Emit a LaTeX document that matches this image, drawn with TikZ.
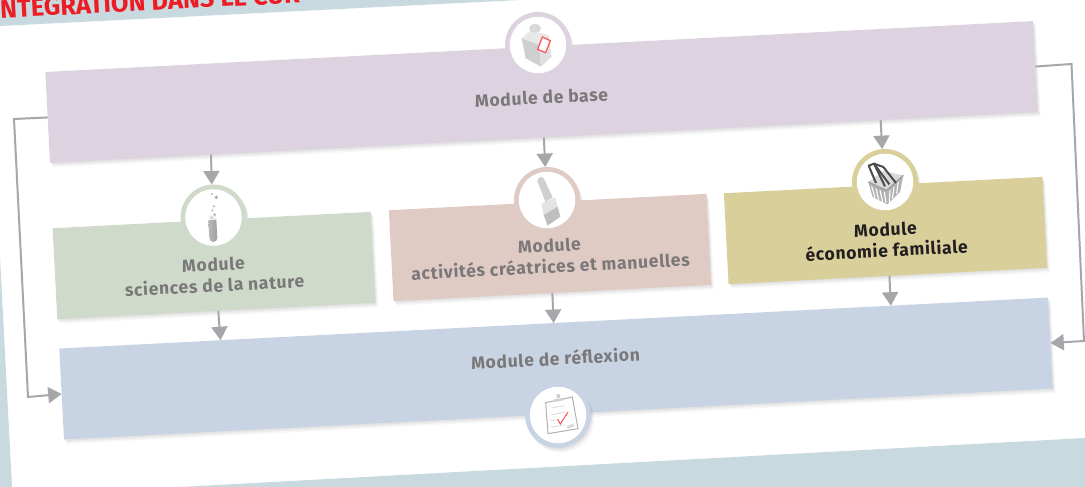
\documentclass[tikz,border=0pt]{standalone}
\usepackage{fontspec}
\setmainfont{Fira Sans}
\usetikzlibrary{arrows.meta,calc,shadows}
\definecolor{tealbg}{HTML}{C8DAE0}
\definecolor{cbase}{HTML}{DDD2DF}
\definecolor{cgreen}{HTML}{CFDACB}
\definecolor{cpink}{HTML}{E0CAC4}
\definecolor{cyellow}{HTML}{D9CF9A}
\definecolor{cblue}{HTML}{C8D4E3}
\definecolor{cgrey}{HTML}{A7A7AB}
\definecolor{ctext}{HTML}{7A7879}
\definecolor{cdark}{HTML}{231F20}
\definecolor{cred}{HTML}{ED1C24}
\tikzset{
  softshadow/.style={
    drop shadow={shadow xshift=1pt,shadow yshift=-1.5pt,fill=black,opacity=.045},
    drop shadow={shadow xshift=2pt,shadow yshift=-3pt,fill=black,opacity=.04},
    drop shadow={shadow xshift=3pt,shadow yshift=-4.5pt,fill=black,opacity=.03}},
  modbox/.style={rectangle,inner sep=0pt,outer sep=0pt,minimum height=91pt,rotate=2.95,softshadow},
  ringc/.style={circle,inner sep=0pt,outer sep=0pt,minimum size=66pt},
  whitec/.style={circle,fill=white,inner sep=0pt,outer sep=0pt,minimum size=56.5pt},
  modlabel/.style={rotate=2.95,align=center,font=\fontsize{17.5}{21}\selectfont\bfseries\addfontfeatures{LetterSpace=4},text=ctext,inner sep=0pt},
  conn/.style={draw=cgrey,line width=2pt,line join=miter,-{Triangle[length=13.5pt,width=16pt,fill=cgrey]}},
  icon/.style={x=.3333pt,y=-.3333pt},
}
\begin{document}
\begin{tikzpicture}[x=1pt,y=-1pt]
\useasboundingbox (0,0) rectangle (1085,487);
\clip (0,0) rectangle (1085,487);
\fill[white] (0,0) rectangle (1085,487);
% page background
\fill[tealbg] (0,0) -- (520,0) -- (0,26) -- cycle;
\fill[tealbg] (0,257) -- (12,487) -- (0,487) -- cycle;
\fill[tealbg] (180,487) -- (1085,438) -- (1085,487) -- cycle;
\node[anchor=base west,rotate=2.95,inner sep=0pt,text=cred,font=\fontsize{25.5}{27}\selectfont\bfseries] (title) at (-7,18.5) {INTÉGRATION DANS LE CUR};
% rings and boxes
\node[ringc,fill=cbase,softshadow] (rbase) at (538,45) {};
\node[ringc,fill=cgreen,softshadow] (rgreen) at (213.5,217.5) {};
\node[ringc,fill=cpink,softshadow] (rpink) at (547,200) {};
\node[ringc,fill=cyellow,softshadow] (ryellow) at (885,182) {};
\node[modbox,fill=cbase,minimum width=989pt] (base) at (541.5,92) {};
\node[modbox,fill=cgreen,minimum width=318.5pt] (green) at (214,265.5) {};
\node[modbox,fill=cpink,minimum width=318pt] (pink) at (550,247.5) {};
\node[modbox,fill=cyellow,minimum width=319pt] (yellow) at (885.5,230.5) {};
\node[modbox,fill=cblue,minimum width=990pt] (blue) at (556,368.5) {};
\node[ringc,fill=cblue,softshadow] (rblue) at (558,415) {};
% connectors
\coordinate (elbowa) at (14,119);
\coordinate (elbowb) at (28,397);
\coordinate (elbowc) at (1071.5,64);
\coordinate (elbowd) at (1084,341);
\draw[conn] ($(base.south west)!.163!(base.south east)$) -- (rgreen.93);
\draw[conn] ($(base.south west)!.5!(base.south east)$) -- (rpink.93);
\draw[conn] ($(base.south west)!.841!(base.south east)$) -- (ryellow.95);
\draw[conn] ($(green.south west)!.506!(green.south east)$) -- ($(blue.north west)!.163!(blue.north east)$);
\draw[conn] ($(pink.south west)!.5!(pink.south east)$) -- ($(blue.north west)!.5!(blue.north east)$);
\draw[conn] ($(yellow.south west)!.505!(yellow.south east)$) -- ($(blue.north west)!.841!(blue.north east)$);
\draw[conn] (base.west) -- (elbowa) -- (elbowb) -- (blue.west);
\draw[conn] (base.east) -- (elbowc) -- (elbowd) -- (blue.east);
% white discs
\node[whitec] (wbase) at (rbase) {};
\node[whitec] (wgreen) at (rgreen) {};
\node[whitec] (wpink) at (rpink) {};
\node[whitec] (wyellow) at (ryellow) {};
\node[whitec] (wblue) at (rblue) {};
% labels
\node[modlabel] (lbase) at (541.5,97.5) {Module de base};
\node[modlabel] (lgreen) at (214,275) {Module\\sciences de la nature};
\node[modlabel] (lpink) at (550,256) {Module\\activités créatrices et manuelles};
\node[modlabel,text=cdark] (lyellow) at (886,240) {Module\\économie familiale};
\node[modlabel] (lblue) at (555.5,358) {Module de réflexion};
% carton icon
\begin{scope}[shift={(505,10)},icon]
\fill[gray!18] (50,85) -- (75,62) -- (130,75) -- (102,105) -- cycle;
\fill[gray!38] (50,85) -- (102,105) -- (108,170) -- (62,145) -- cycle;
\fill[gray!24] (102,105) -- (130,75) -- (140,140) -- (108,170) -- cycle;
\fill[gray!30] (90,55) ellipse (18 and 13);
\filldraw[fill=white,draw=red!65,line width=1.3pt] (112,81) -- (136,92) -- (122,128) -- (98,118) -- cycle;
\end{scope}
% test tube icon
\begin{scope}[shift={(178,183)},icon]
\fill[gray!10] (92,98) -- (114,96) -- (118,165) -- (97,165) -- cycle;
\shade[left color=gray!55,right color=gray!75] (91,112) -- (115,110) -- (118,165) arc[start angle=0,end angle=180,x radius=12,y radius=12] -- cycle;
\fill[gray!70] (102,33) circle (3);
\fill[gray!65] (115,43) circle (5.5);
\fill[gray!50] (108,70) circle (4);
\fill[gray!50] (103,82) circle (3.5);
\fill[gray!55] (110,95) circle (4.5);
\fill[gray!40] (101,104) circle (4);
\end{scope}
% brush icon
\begin{scope}[shift={(512,165)},icon]
\fill[gray!38] (76,48) .. controls (78,33) and (94,33) .. (98,45) -- (122,98) -- (100,110) -- cycle;
\fill[gray!22] (88,116) -- (130,98) -- (137,125) -- (95,150) -- cycle;
\fill[gray!50] (95,150) -- (137,125) -- (145,155) -- (107,182) -- cycle;
\end{scope}
% basket icon
\begin{scope}[shift={(850,147)},icon]
\fill[gray!60] (55,105) -- (110,130) -- (160,85) -- (150,135) -- (112,172) -- (68,150) -- cycle;
\fill[gray!30] (55,105) -- (100,72) -- (160,85) -- (110,130) -- cycle;
\draw[white,line width=1.1pt] (65,118) -- (75,152) (78,125) -- (86,158) (90,130) -- (98,164) (103,135) -- (108,168)
  (120,130) -- (118,165) (132,120) -- (127,155) (145,105) -- (140,140);
\draw[gray!80,line width=1pt] (55,105) -- (110,130) -- (160,85);
\draw[gray!60!black,line width=2pt,line join=round] (78,108) -- (56,56) -- (72,50) -- (118,112);
\draw[gray!60!black,line width=2pt,line join=round] (105,118) -- (72,50) -- (100,60) -- (138,108);
\end{scope}
% clipboard icon
\begin{scope}[shift={(523,382)},icon]
\filldraw[fill=white,draw=gray!60,line width=1pt] (68,62) -- (148,45) -- (165,140) -- (75,155) -- cycle;
\fill[gray!35] (92,52) -- (122,47) -- (124,54) -- (94,60) -- cycle;
\fill[gray!40] (106,42) circle (6);
\draw[gray!30,line width=.8pt] (85,78) -- (125,71) (85,98) -- (125,91) (85,116) -- (105,113) (85,136) -- (125,128);
\draw[gray!30,line width=.8pt] (78,73) -- (81,72) (79,93) -- (82,92) (80,113) -- (83,112) (81,133) -- (84,132);
\fill[gray!30] (130,133) -- (150,125) -- (155,133) -- (135,140) -- cycle;
\draw[red!75,line width=.9pt] (104,112) -- (112,126) -- (135,90);
\end{scope}
\end{tikzpicture}
\end{document}
